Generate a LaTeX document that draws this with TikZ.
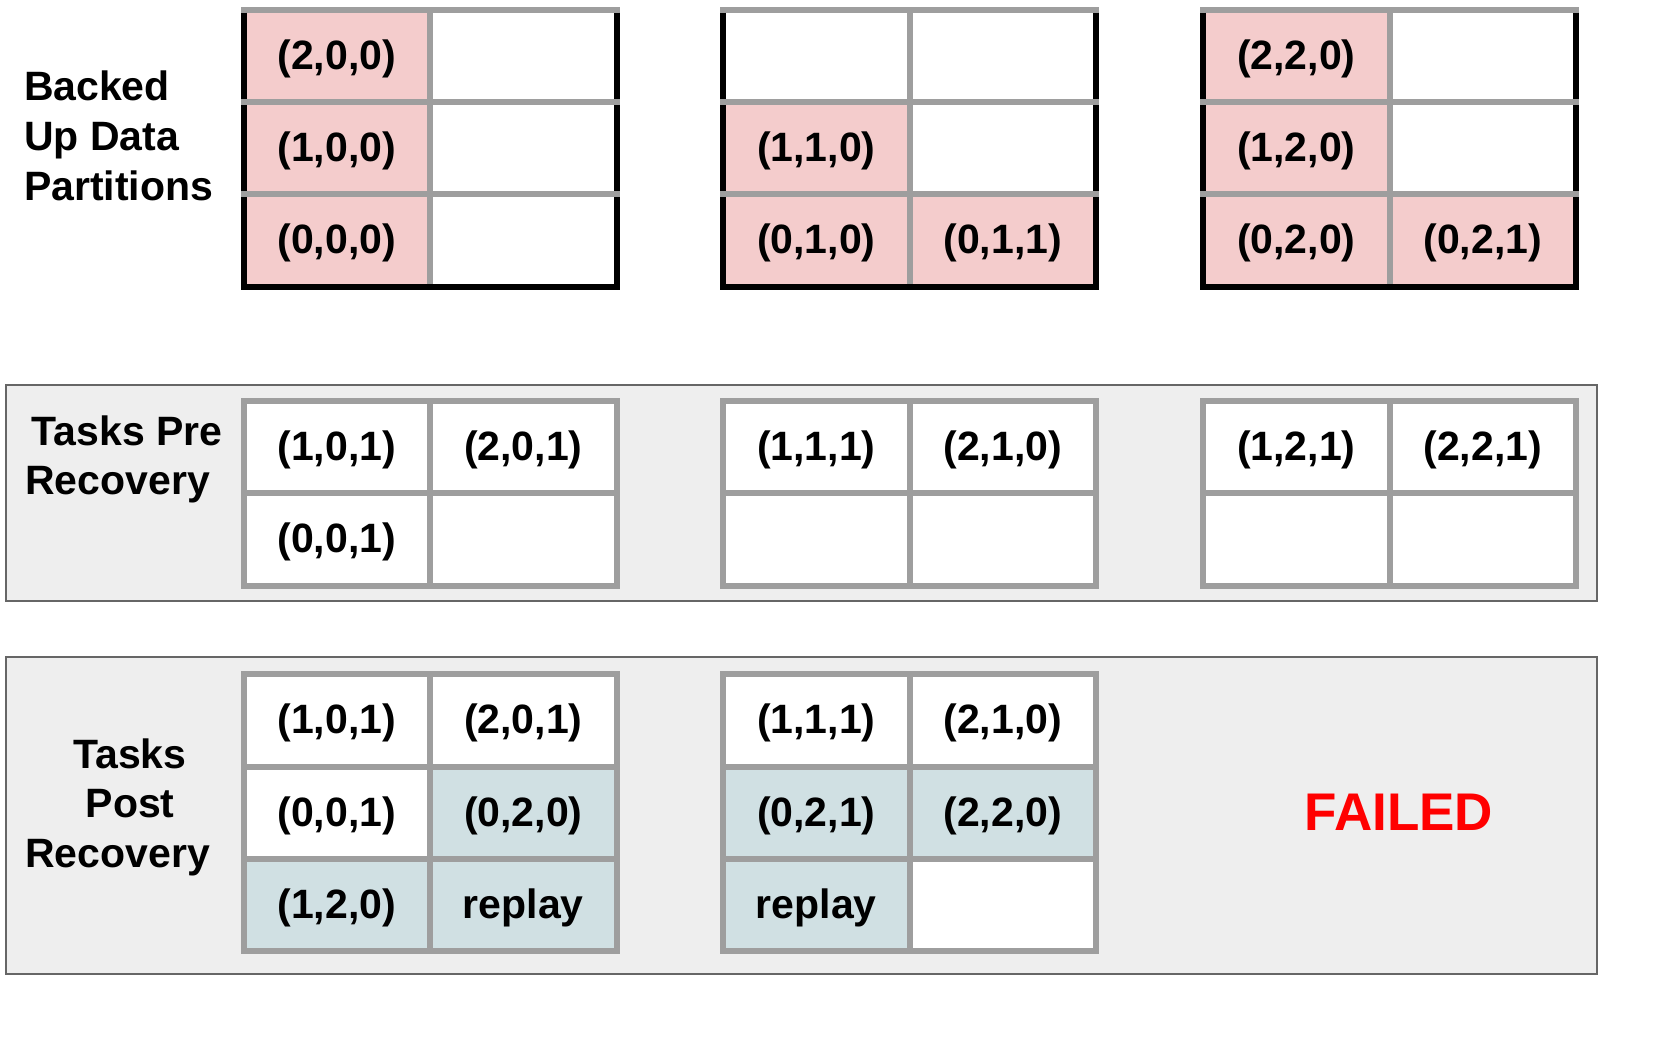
\documentclass[tikz,border=0pt]{standalone}
\usepackage{fontspec}
\setmainfont{Liberation Sans}
\definecolor{pinkc}{HTML}{F4CCCC}
\definecolor{bluec}{HTML}{D0E0E3}
\definecolor{gridc}{HTML}{9E9E9E}
\definecolor{panelfill}{HTML}{EEEEEE}
\definecolor{panelline}{HTML}{666666}
\definecolor{failred}{HTML}{FF0000}
\begin{document}
\begin{tikzpicture}[x=1pt,y=-1pt,
  cell/.style={rectangle, draw=gridc, line width=6pt, line join=miter,
    minimum width=186.5pt, minimum height=92.3pt, inner sep=0pt, outer sep=0pt,
    font=\fontsize{41}{50}\selectfont\bfseries, text height=35pt, text depth=8pt, fill=white},
  pk/.style={cell, fill=pinkc},
  bl/.style={cell, fill=bluec},
  blk/.style={draw=black, line width=6pt},
  panel/.style={rectangle, draw=panelline, line width=2pt, fill=panelfill, inner sep=0pt, outer sep=0pt},
  lab/.style={font=\fontsize{41}{50}\selectfont\bfseries, inner sep=0pt, outer sep=0pt}
]
\fill[white] (0,0) rectangle (1661,1042);
\useasboundingbox (0,0) rectangle (1661,1042);

% panels
\node[panel, minimum width=1591.2pt, minimum height=215.4pt] (prepanel) at (801.1,493) {};
\node[panel, minimum width=1591.2pt, minimum height=316.4pt] (postpanel) at (801.1,815.5) {};

% labels
\node[lab, anchor=base west] (labA) at (24,100.5) {Backed};
\node[lab, anchor=base west] (labB) at (24,150.5) {Up Data};
\node[lab, anchor=base west] (labC) at (24,200.5) {Partitions};
\node[lab, anchor=base] (labD) at (127,445) {Tasks Pre};
\node[lab, anchor=base] (labE) at (117.6,494) {Recovery};
\node[lab, anchor=base] (labF) at (129.8,768.5) {Tasks};
\node[lab, anchor=base] (labG) at (130.2,817.5) {Post};
\node[lab, anchor=base] (labH) at (117.6,867) {Recovery};
\node[lab, anchor=base, font=\fontsize{53}{60}\selectfont\bfseries, text=failred] (failed) at (1399,830) {FAILED};

% ---------- backed up data partitions ----------
% grid 1
\node[pk]   (a1r1c1) at (336.75,55.85) {(2,0,0)};
\node[cell] (a1r1c2) at (523.25,55.85) {};
\node[pk]   (a1r2c1) at (336.75,148.15) {(1,0,0)};
\node[cell] (a1r2c2) at (523.25,148.15) {};
\node[pk]   (a1r3c1) at (336.75,240.45) {(0,0,0)};
\node[cell] (a1r3c2) at (523.25,240.45) {};
% grid 2
\node[cell] (a2r1c1) at (816.25,55.85) {};
\node[cell] (a2r1c2) at (1002.75,55.85) {};
\node[pk]   (a2r2c1) at (816.25,148.15) {(1,1,0)};
\node[cell] (a2r2c2) at (1002.75,148.15) {};
\node[pk]   (a2r3c1) at (816.25,240.45) {(0,1,0)};
\node[pk]   (a2r3c2) at (1002.75,240.45) {(0,1,1)};
% grid 3
\node[pk]   (a3r1c1) at (1296.25,55.85) {(2,2,0)};
\node[cell] (a3r1c2) at (1482.75,55.85) {};
\node[pk]   (a3r2c1) at (1296.25,148.15) {(1,2,0)};
\node[cell] (a3r2c2) at (1482.75,148.15) {};
\node[pk]   (a3r3c1) at (1296.25,240.45) {(0,2,0)};
\node[pk]   (a3r3c2) at (1482.75,240.45) {(0,2,1)};

% black borders (left, right, bottom)
\foreach \g in {1,2,3}{
  \draw[blk] ([yshift=-3pt]a\g r1c1.north west) -- ([yshift=3pt]a\g r1c1.south west);
  \draw[blk] ([yshift=-3pt]a\g r2c1.north west) -- ([yshift=3pt]a\g r2c1.south west);
  \draw[blk] ([yshift=-3pt]a\g r3c1.north west) -- (a\g r3c1.south west);
  \draw[blk] ([yshift=-3pt]a\g r1c2.north east) -- ([yshift=3pt]a\g r1c2.south east);
  \draw[blk] ([yshift=-3pt]a\g r2c2.north east) -- ([yshift=3pt]a\g r2c2.south east);
  \draw[blk] ([yshift=-3pt]a\g r3c2.north east) -- (a\g r3c2.south east);
  \draw[blk, line cap=rect] (a\g r3c1.south west) -- (a\g r3c2.south east);
}

% ---------- tasks pre recovery ----------
\node[cell] (p1r1c1) at (336.75,447.15) {(1,0,1)};
\node[cell] (p1r1c2) at (523.25,447.15) {(2,0,1)};
\node[cell] (p1r2c1) at (336.75,539.45) {(0,0,1)};
\node[cell] (p1r2c2) at (523.25,539.45) {};
\node[cell] (p2r1c1) at (816.25,447.15) {(1,1,1)};
\node[cell] (p2r1c2) at (1002.75,447.15) {(2,1,0)};
\node[cell] (p2r2c1) at (816.25,539.45) {};
\node[cell] (p2r2c2) at (1002.75,539.45) {};
\node[cell] (p3r1c1) at (1296.25,447.15) {(1,2,1)};
\node[cell] (p3r1c2) at (1482.75,447.15) {(2,2,1)};
\node[cell] (p3r2c1) at (1296.25,539.45) {};
\node[cell] (p3r2c2) at (1482.75,539.45) {};

% ---------- tasks post recovery ----------
\node[cell] (q1r1c1) at (336.75,720.45) {(1,0,1)};
\node[cell] (q1r1c2) at (523.25,720.45) {(2,0,1)};
\node[cell] (q1r2c1) at (336.75,812.75) {(0,0,1)};
\node[bl]   (q1r2c2) at (523.25,812.75) {(0,2,0)};
\node[bl]   (q1r3c1) at (336.75,905.05) {(1,2,0)};
\node[bl]   (q1r3c2) at (523.25,905.05) {replay};
\node[cell] (q2r1c1) at (816.25,720.45) {(1,1,1)};
\node[cell] (q2r1c2) at (1002.75,720.45) {(2,1,0)};
\node[bl]   (q2r2c1) at (816.25,812.75) {(0,2,1)};
\node[bl]   (q2r2c2) at (1002.75,812.75) {(2,2,0)};
\node[bl]   (q2r3c1) at (816.25,905.05) {replay};
\node[cell] (q2r3c2) at (1002.75,905.05) {};
\end{tikzpicture}
\end{document}
